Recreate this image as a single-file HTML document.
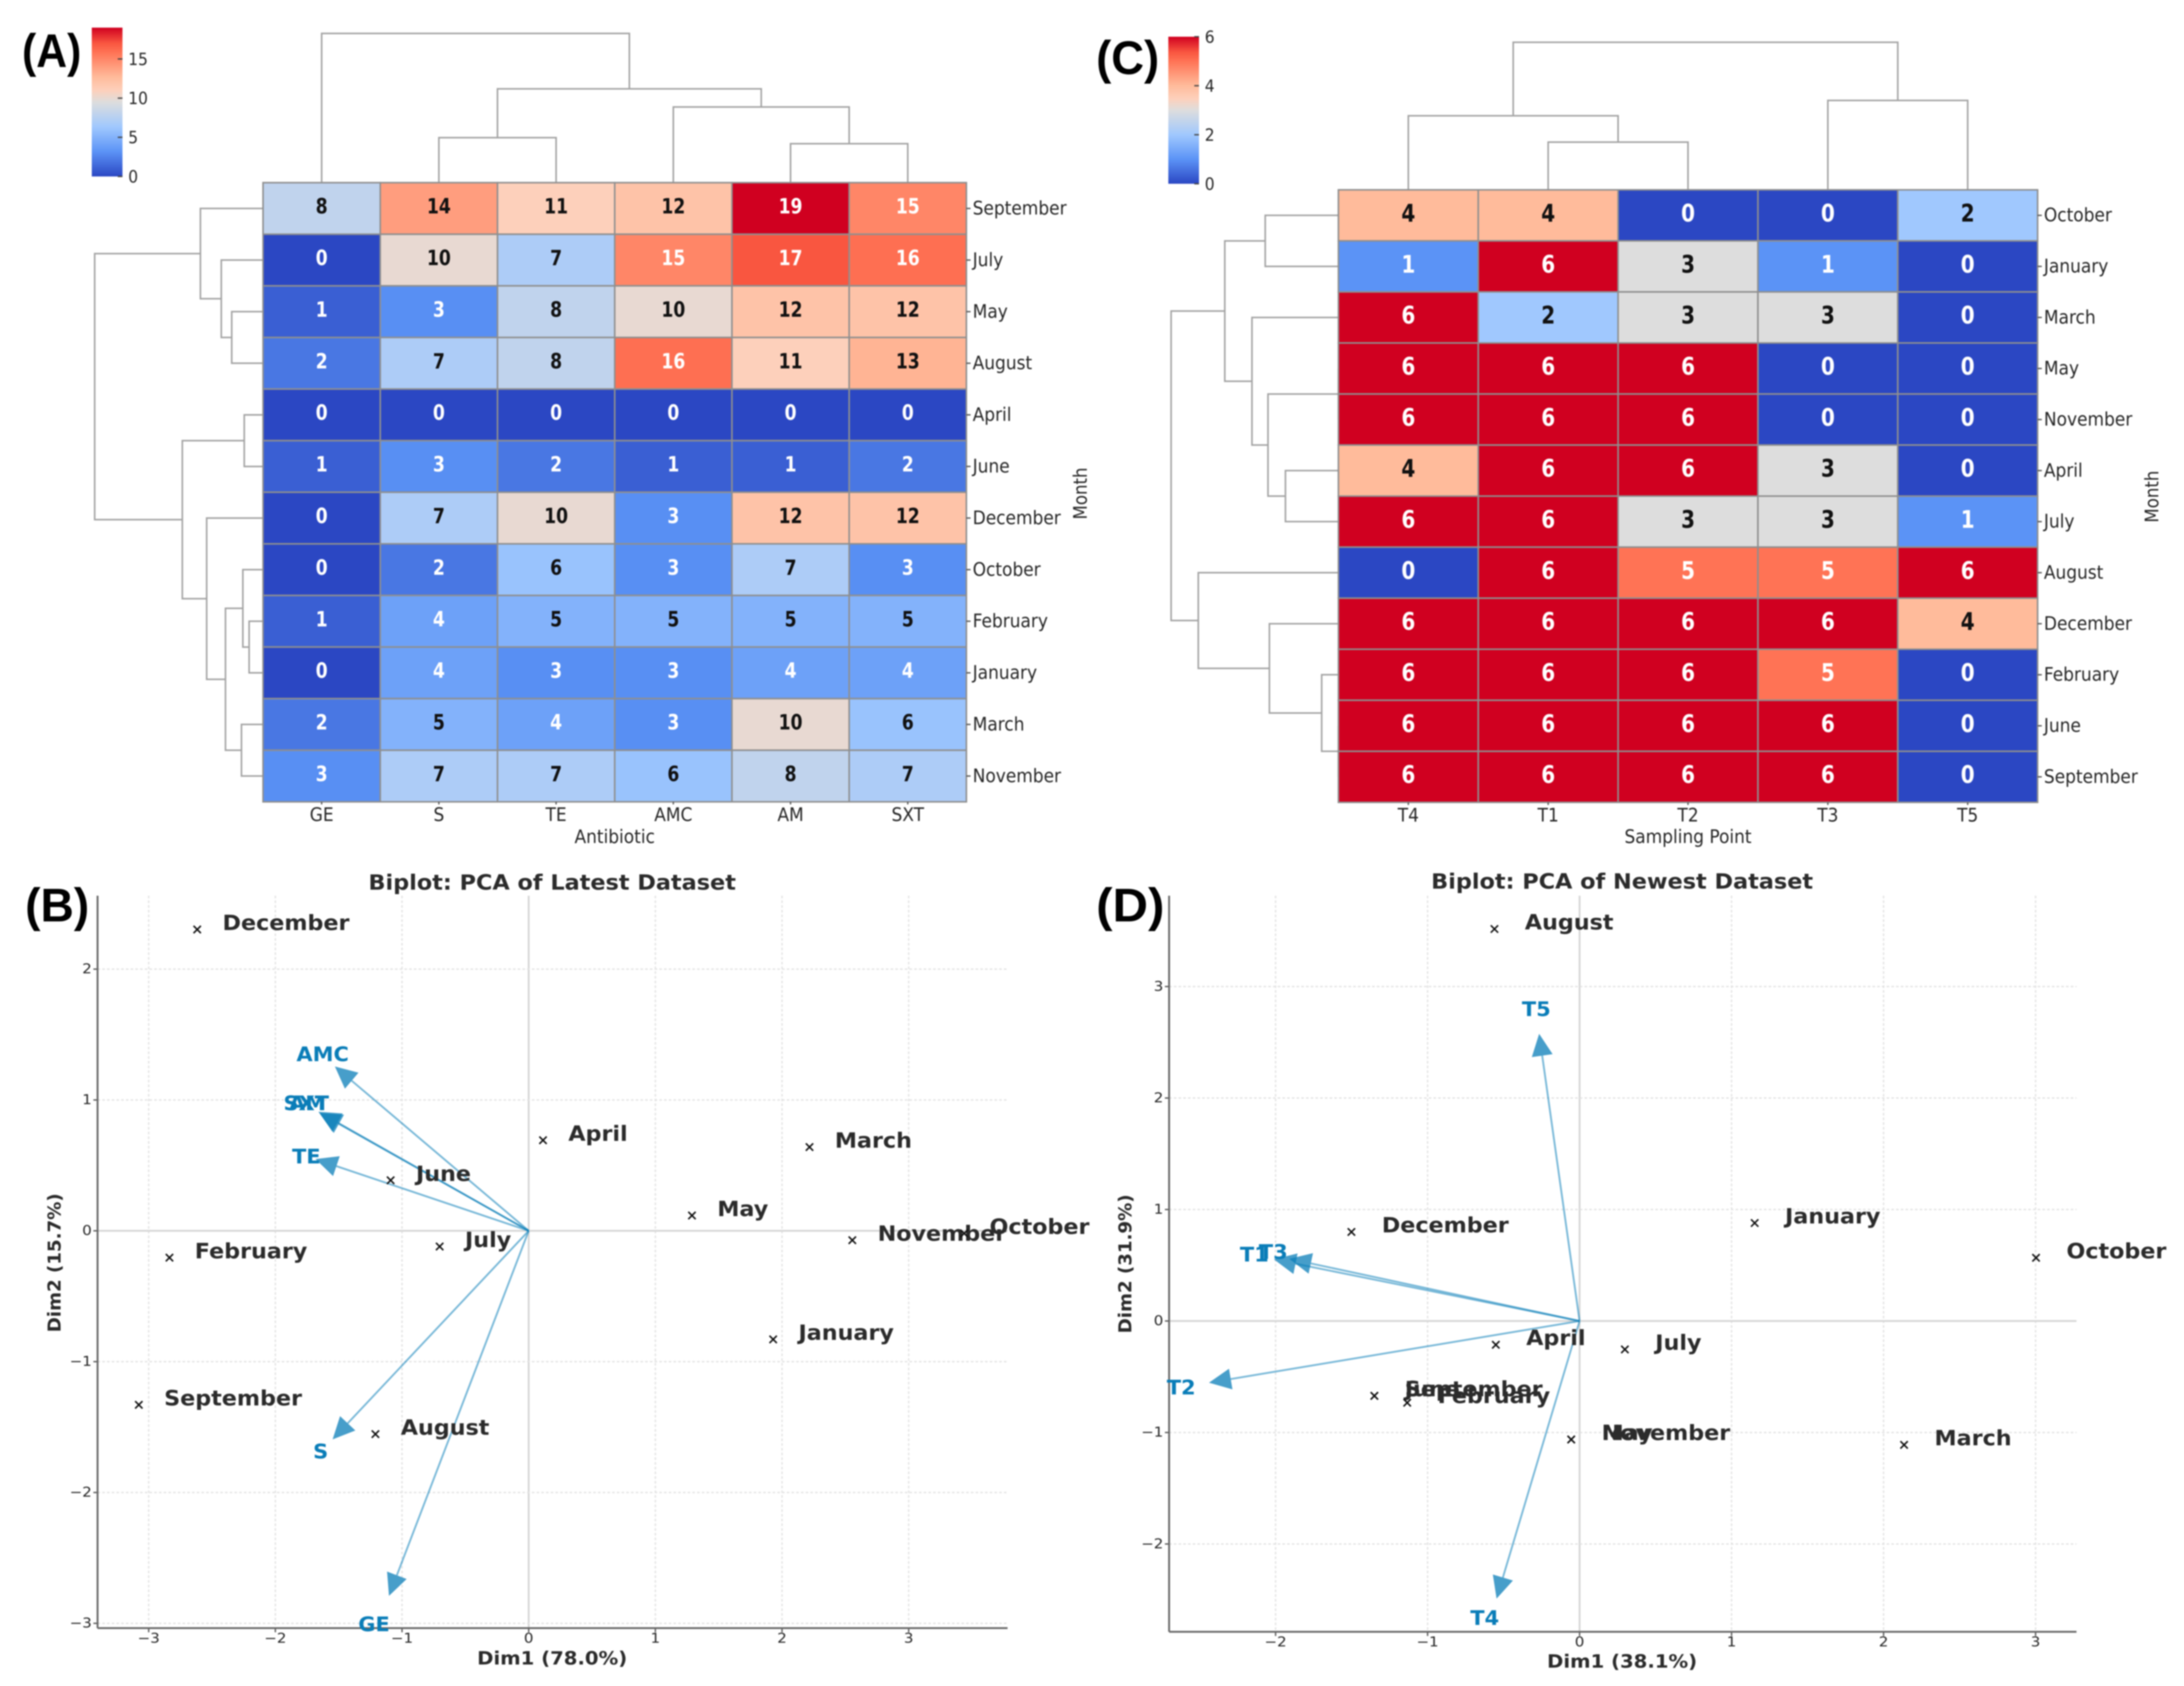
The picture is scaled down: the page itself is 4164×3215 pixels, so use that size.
<!DOCTYPE html>
<html lang="en">
<head>
<meta charset="utf-8">
<title>Heatmaps and PCA biplots</title>
<style>
html,body{margin:0;padding:0;background:#fff;width:4164px;height:3215px;overflow:hidden}
svg{display:block;filter:blur(1.3px)}
text{font-family:"DejaVu Sans","Liberation Sans",sans-serif}
.letter{font-family:"Liberation Sans",sans-serif;font-weight:700;font-size:90px;fill:#000}
</style>
</head>
<body>
<svg id="figure" xmlns="http://www.w3.org/2000/svg" width="4164" height="3215" viewBox="0 0 4164 3215">
  <defs id="gradients"></defs>
  <rect width="4164" height="3215" fill="#fff"/>

  <g id="panel-a">
    <text class="letter" x="42" y="128" textLength="113" lengthAdjust="spacingAndGlyphs">(A)</text>
  </g>
  <g id="panel-c">
    <text class="letter" x="2090" y="141" textLength="120" lengthAdjust="spacingAndGlyphs">(C)</text>
  </g>
  <g id="panel-b">
    <text class="letter" x="48" y="1757" textLength="122" lengthAdjust="spacingAndGlyphs">(B)</text>
  </g>
  <g id="panel-d">
    <text class="letter" x="2090" y="1757" textLength="130" lengthAdjust="spacingAndGlyphs">(D)</text>
  </g>
</svg>

<script>
/* ---------- Panel A data ---------- */
const abxMonths = ['September','July','May','August','April','June','December','October','February','January','March','November'];
const abxDrugs = ['GE','S','TE','AMC','AM','SXT'];
const abxValues = [
  [8,14,11,12,19,15],
  [0,10,7,15,17,16],
  [1,3,8,10,12,12],
  [2,7,8,16,11,13],
  [0,0,0,0,0,0],
  [1,3,2,1,1,2],
  [0,7,10,3,12,12],
  [0,2,6,3,7,3],
  [1,4,5,5,5,5],
  [0,4,3,3,4,4],
  [2,5,4,3,10,6],
  [3,7,7,6,8,7]
];
const abxColTree = [[1,2,82],[4,5,71],[3,7,138],[6,8,171],[0,9,272]];
const abxRowTree = [[2,3,45],[1,12,60],[0,13,90],[4,5,27],[8,9,20],[7,16,29],[10,11,31],[17,18,54],[6,19,81],[15,20,116],[14,21,242]];
const abxScaleTicks = [0,5,10,15];
const abxScaleMax = 19;

/* ---------- Panel C data ---------- */
const siteMonths = ['October','January','March','May','November','April','July','August','December','February','June','September'];
const sitePoints = ['T4','T1','T2','T3','T5'];
const siteValues = [
  [4,4,0,0,2],
  [1,6,3,1,0],
  [6,2,3,3,0],
  [6,6,6,0,0],
  [6,6,6,0,0],
  [4,6,6,3,0],
  [6,6,3,3,1],
  [0,6,5,5,6],
  [6,6,6,6,4],
  [6,6,6,5,0],
  [6,6,6,6,0],
  [6,6,6,6,0]
];
const siteColTree = [[1,2,87],[0,5,135],[3,4,163],[6,7,269]];
const siteRowTree = [[0,1,105],[5,6,76],[3,4,0],[14,13,101],[2,15,124],[12,16,163],[10,11,0],[9,18,24],[8,19,99],[7,20,201],[17,21,240]];
const siteScaleTicks = [0,2,4,6];
const siteScaleMax = 6;

/* ---------- Panel B data ---------- */
const bMonths = ['December','April','March','June','May','November','October','February','July','January','September','August'];
const bDim1 = [-2.617,0.113,2.217,-1.09,1.289,2.555,3.438,-2.836,-0.703,1.93,-3.078,-1.21];
const bDim2 = [2.303,0.692,0.64,0.386,0.117,-0.072,-0.02,-0.205,-0.12,-0.83,-1.33,-1.554];
const bVars = ['AMC','SXT','AM','TE','S','GE'];
const bLoad1 = [-1.53,-1.66,-1.65,-1.683,-1.548,-1.103];
const bLoad2 = [1.256,0.91,0.9,0.548,-1.594,-2.79];
const bLabelK1 = [1.063,1.058,1.058,1.043,1.061,1.107];
const bLabelK2 = [1.071,1.066,1.078,1.03,1.061,1.079];
const bXTicks = [-3,-2,-1,0,1,2,3];
const bYTicks = [-3,-2,-1,0,1,2];

/* ---------- Panel D data ---------- */
const dMonths = ['August','December','January','October','April','July','September','June','February','May','November','March'];
const dDim1 = [-0.56,-1.501,1.152,3.003,-0.551,0.298,-1.35,-1.35,-1.134,-0.055,-0.055,2.135];
const dDim2 = [3.516,0.799,0.879,0.567,-0.213,-0.255,-0.671,-0.671,-0.733,-1.063,-1.063,-1.111];
const dVars = ['T5','T1','T3','T2','T4'];
const dLoad1 = [-0.266,-2.011,-1.91,-2.438,-0.546];
const dLoad2 = [2.576,0.553,0.558,-0.553,-2.49];
const dLabelK1 = [1.07,1.064,1.055,1.075,1.143];
const dLabelK2 = [1.084,1.067,1.1,1.085,1.072];
const dXTicks = [-2,-1,0,1,2,3];
const dYTicks = [-2,-1,0,1,2,3];

/* ---------- helpers ---------- */
const SVGNS = 'http://www.w3.org/2000/svg';
const CMAP_POS = [0,0.167,0.333,0.5,0.579,0.667,0.833,0.895,1];
const CMAP_RGB = [[43,71,195],[91,147,246],[160,200,254],[221,221,221],[253,208,187],[255,187,155],[255,115,85],[249,86,64],[208,0,32]];

function cmap(t){
  t = Math.max(0,Math.min(1,t));
  let i = 0;
  while(i < CMAP_POS.length-2 && t > CMAP_POS[i+1]) i++;
  const f = (t-CMAP_POS[i])/(CMAP_POS[i+1]-CMAP_POS[i]);
  const c = CMAP_RGB[i].map((v,k)=>Math.round(v+(CMAP_RGB[i+1][k]-v)*f));
  return 'rgb('+c.join(',')+')';
}
function mk(parent,tag,attrs){
  const el = document.createElementNS(SVGNS,tag);
  for(const k in attrs) el.setAttribute(k,attrs[k]);
  parent.appendChild(el);
  return el;
}
function tx(parent,str,x,y,o){
  const tr = 'translate('+x+','+y+')'+(o.rot?' rotate('+o.rot+')':'')+' scale('+(o.sx||1)+',1)';
  const el = mk(parent,'text',{transform:tr,'font-size':o.size,'font-weight':o.weight||400,
    fill:o.fill||'#262626','text-anchor':o.anchor||'start','dominant-baseline':'central'});
  el.textContent = str;
  return el;
}
/* tree layout: each merge joins two leaves/clusters; returns position+height per node */
function treeNodes(count,merges){
  const pos = [], h = [];
  for(let i=0;i<count;i++){pos.push(i);h.push(0);}
  merges.forEach(m=>{pos.push((pos[m[0]]+pos[m[1]])/2);h.push(m[2]);});
  return {pos,h};
}

function drawHeatmap(cfg){
  const g = document.getElementById(cfg.gid);
  const cols = cfg.cols, rows = cfg.rows, vals = cfg.values;
  const L=cfg.left,T=cfg.top;
  const cw=(cfg.right-L)/cols.length, ch=(cfg.bottom-T)/rows.length;
  const xOf=i=>L+(i+0.5)*cw, yOf=i=>T+(i+0.5)*ch;

  /* column dendrogram */
  const ct = treeNodes(cols.length,cfg.colTree);
  const ctY = d=>T-d*cfg.colUnit;
  cfg.colTree.forEach((m,i)=>{
    const a=m[0],b=m[1];
    const p = mk(g,'path',{d:'M'+xOf(ct.pos[a])+' '+ctY(ct.h[a])+'V'+ctY(m[2])+'H'+xOf(ct.pos[b])+'V'+ctY(ct.h[b]),
      fill:'none',stroke:'#a3a3a3','stroke-width':3});
    
    
  });
  /* row dendrogram */
  const rt = treeNodes(rows.length,cfg.rowTree);
  const rtX = d=>L-d*cfg.rowUnit;
  cfg.rowTree.forEach((m,i)=>{
    const a=m[0],b=m[1];
    const p = mk(g,'path',{d:'M'+rtX(rt.h[a])+' '+yOf(rt.pos[a])+'H'+rtX(m[2])+'V'+yOf(rt.pos[b])+'H'+rtX(rt.h[b]),
      fill:'none',stroke:'#a3a3a3','stroke-width':3});
    
    
  });
  /* cells */
  rows.forEach((r,ri)=>{
    cols.forEach((c,ci)=>{
      const v = vals[ri][ci];
      const t = v/cfg.max;
      const rect = mk(g,'rect',{x:L+ci*cw,y:T+ri*ch,width:cw,height:ch,fill:cmap(t),stroke:'#8f8f8f','stroke-width':3});
      
      
    });
  });
  rows.forEach((r,ri)=>{
    cols.forEach((c,ci)=>{
      const v = vals[ri][ci];
      const t = v/cfg.max;
      const lab = tx(g,String(v),xOf(ci),yOf(ri)-cfg.textLift,{size:cfg.cellSize,sx:cfg.cellSx,weight:700,anchor:'middle',fill:(t<0.25||t>0.75)?'#fff':'#111'});
      
      
    });
  });
  /* row ticks & labels */
  rows.forEach((r,ri)=>{
    const tk = mk(g,'line',{x1:cfg.right,x2:cfg.right+8,y1:yOf(ri),y2:yOf(ri),stroke:'#555','stroke-width':2.5});
    
    
    const lab = tx(g,r,cfg.right+12,yOf(ri),{size:36,sx:0.9});
    
    
  });
  /* column ticks & labels */
  cols.forEach((c,ci)=>{
    const tk = mk(g,'line',{x1:xOf(ci),x2:xOf(ci),y1:cfg.bottom,y2:cfg.bottom+5,stroke:'#555','stroke-width':2.5});
    
    
    const lab = tx(g,c,xOf(ci),cfg.bottom+25,{size:36,sx:0.9,anchor:'middle'});
    
    
  });
  /* axis titles */
  const xt = tx(g,cfg.xTitle,(L+cfg.right)/2,1596,{size:36,sx:0.9,anchor:'middle'});
  
  
  const yt = tx(g,'Month',cfg.monthX,cfg.monthY,{size:36,sx:0.88,anchor:'middle',rot:-90});
  
  

  /* colour bar */
  const defs = document.getElementById('gradients');
  const grad = mk(defs,'linearGradient',{id:cfg.gid+'-grad',x1:0,y1:1,x2:0,y2:0});
  CMAP_POS.forEach(p=>{ mk(grad,'stop',{offset:p,'stop-color':cmap(p)}); });
  const bar = mk(g,'rect',{x:cfg.barL,y:cfg.barT,width:cfg.barR-cfg.barL,height:cfg.barB-cfg.barT,fill:'url(#'+cfg.gid+'-grad)'});
  
  
  const barY = v=>cfg.barB-(v/cfg.max)*(cfg.barB-cfg.barT);
  cfg.barTicks.forEach(v=>{
    const tk = mk(g,'line',{x1:cfg.barR-9,x2:cfg.barR,y1:barY(v),y2:barY(v),stroke:'#444','stroke-width':2.5});
    
    
    const lab = tx(g,String(v),cfg.barR+11,barY(v)+1,{size:32,sx:0.92});
    
    
  });
}

function drawBiplot(cfg){
  const g = document.getElementById(cfg.gid);
  const X = cfg.xScale, Y = cfg.yScale;
  /* grid */
  cfg.xTicks.forEach(v=>{
    const gl = mk(g,'line',{x1:X(v),x2:X(v),y1:cfg.top,y2:cfg.bottom,
      stroke:v===0?'#d6d6d6':'#e2e2e2','stroke-width':v===0?3.5:2.5,'stroke-dasharray':v===0?'none':'5 4'});
    
    
    const tk = mk(g,'line',{x1:X(v),x2:X(v),y1:cfg.bottom,y2:cfg.bottom+8,stroke:'#555','stroke-width':2.5});
    
    
    const lab = tx(g,String(v).replace('-','\u2212'),X(v),cfg.bottom+cfg.xTickGap,{size:26,sx:1.1,anchor:'middle'});
    
    
  });
  cfg.yTicks.forEach(v=>{
    const gl = mk(g,'line',{x1:cfg.left,x2:cfg.right,y1:Y(v),y2:Y(v),
      stroke:v===0?'#d6d6d6':'#e2e2e2','stroke-width':v===0?3.5:2.5,'stroke-dasharray':v===0?'none':'5 4'});
    
    
    const tk = mk(g,'line',{x1:cfg.left-8,x2:cfg.left,y1:Y(v),y2:Y(v),stroke:'#555','stroke-width':2.5});
    
    
    const lab = tx(g,String(v).replace('-','\u2212'),cfg.left-11,Y(v),{size:26,sx:1.1,anchor:'end'});
    
    
  });
  /* spines */
  const sl = mk(g,'line',{x1:cfg.left,x2:cfg.left,y1:cfg.top,y2:cfg.bottom,stroke:'#666','stroke-width':3.5});
  
  
  const sb = mk(g,'line',{x1:cfg.left,x2:cfg.right,y1:cfg.bottom,y2:cfg.bottom,stroke:'#666','stroke-width':3.5});
  
  

  /* arrows */
  cfg.vars.forEach((name,i)=>{
    const x0=X(0),y0=Y(0),x1=X(cfg.load1[i]),y1=Y(cfg.load2[i]);
    const dx=x1-x0,dy=y1-y0,len=Math.hypot(dx,dy),ux=dx/len,uy=dy/len;
    const bx=x1-ux*42,by=y1-uy*42,hw=20;
    const shaft = mk(g,'line',{x1:x0,y1:y0,x2:bx,y2:by,stroke:'#0a7db8','stroke-width':3.5,'stroke-opacity':0.55});
    
    
    const head = mk(g,'polygon',{points:x1+','+y1+' '+(bx-uy*hw)+','+(by+ux*hw)+' '+(bx+uy*hw)+','+(by-ux*hw),fill:'#0a7db8','fill-opacity':0.75});
    
    
    const lab = tx(g,name,X(cfg.load1[i]*cfg.labelK1[i]),Y(cfg.load2[i]*cfg.labelK2[i]),{size:38,sx:1.05,weight:700,anchor:'middle',fill:'#0a7db8'});
    
    
  });
  /* points */
  cfg.months.forEach((m,i)=>{
    const px=X(cfg.dim1[i]),py=Y(cfg.dim2[i]),r=7;
    const mark = mk(g,'path',{d:'M'+(px-r)+' '+(py-r)+'L'+(px+r)+' '+(py+r)+'M'+(px-r)+' '+(py+r)+'L'+(px+r)+' '+(py-r),stroke:'#111','stroke-width':3,fill:'none'});
    
    
    const lab = tx(g,m,X(cfg.dim1[i]+0.2),Y(cfg.dim2[i]+cfg.labelDy),{size:40,sx:1.06,weight:700,fill:'#2b2b2b'});
    
    
  });
  /* titles */
  const title = tx(g,cfg.title,cfg.titleX,cfg.titleY,{size:40,sx:1.066,weight:700,anchor:'middle',fill:'#2b2b2b'});
  
  
  const xl = tx(g,cfg.xLabel,cfg.titleX,cfg.xLabelY,{size:35,sx:1.07,weight:700,anchor:'middle',fill:'#2b2b2b'});
  
  
  const yl = tx(g,cfg.yLabel,cfg.yLabelX,cfg.yLabelY,{size:34,sx:1.02,weight:700,anchor:'middle',rot:-90,fill:'#2b2b2b'});
  
  
}

/* ---------- render ---------- */
drawHeatmap({gid:'panel-a',cols:abxDrugs,rows:abxMonths,values:abxValues,colTree:abxColTree,rowTree:abxRowTree,
  max:abxScaleMax,barTicks:abxScaleTicks,left:501.5,right:1842.5,top:348.3,bottom:1529,
  colUnit:1.046,rowUnit:1.3265,cellSize:40,cellSx:0.82,textLift:4,xTitle:'Antibiotic',monthX:2060,monthY:941,
  barL:175,barR:233.5,barT:52.7,barB:336.5});
drawHeatmap({gid:'panel-c',cols:sitePoints,rows:siteMonths,values:siteValues,colTree:siteColTree,rowTree:siteRowTree,
  max:siteScaleMax,barTicks:siteScaleTicks,left:2551.8,right:3884.9,top:362,bottom:1530,
  colUnit:1.046,rowUnit:1.329,cellSize:46,cellSx:0.83,textLift:4,xTitle:'Sampling Point',monthX:4103,monthY:947,
  barL:2227.5,barR:2286,barT:70,barB:350.4});
drawBiplot({gid:'panel-b',months:bMonths,dim1:bDim1,dim2:bDim2,vars:bVars,load1:bLoad1,load2:bLoad2,labelK1:bLabelK1,labelK2:bLabelK2,xTicks:bXTicks,yTicks:bYTicks,
  xScale:v=>1008+v*241.5,yScale:v=>2347-v*249.5,left:186,right:1921,top:1708,bottom:3104.6,xTickGap:20,labelDy:0.05,
  title:'Biplot: PCA of Latest Dataset',titleX:1052.8,titleY:1683,xLabel:'Dim1 (78.0%)',xLabelY:3162,yLabel:'Dim2 (15.7%)',yLabelX:104.6,yLabelY:2408});
drawBiplot({gid:'panel-d',months:dMonths,dim1:dDim1,dim2:dDim2,vars:dVars,load1:dLoad1,load2:dLoad2,labelK1:dLabelK1,labelK2:dLabelK2,xTicks:dXTicks,yTicks:dYTicks,
  xScale:v=>3011.6+v*289.8,yScale:v=>2519-v*212.6,left:2229,right:3959,top:1708,bottom:3111.6,xTickGap:20,labelDy:0.06,
  title:'Biplot: PCA of Newest Dataset',titleX:3092.7,titleY:1681,xLabel:'Dim1 (38.1%)',xLabelY:3168,yLabel:'Dim2 (31.9%)',yLabelX:2146,yLabelY:2410});
</script>
</body>
</html>
